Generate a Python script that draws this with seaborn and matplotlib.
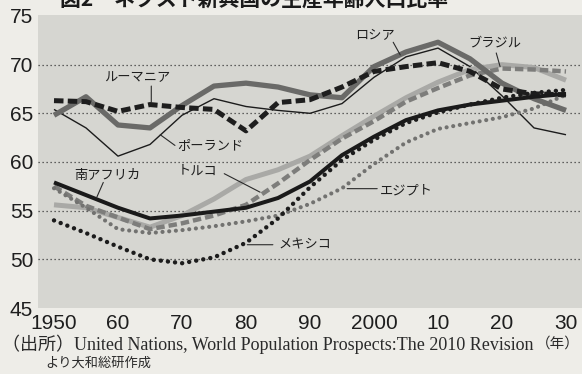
import matplotlib
matplotlib.use("Agg")
import matplotlib.pyplot as plt
import seaborn as sns
import numpy as np

# Working-age population share (%), 1950-2030
years = [1950, 1955, 1960, 1965, 1970, 1975, 1980, 1985, 1990,
         1995, 2000, 2005, 2010, 2015, 2020, 2025, 2030]

russia = [64.8, 66.7, 63.8, 63.5, 65.8, 67.8, 68.1, 67.7, 66.9,
          66.6, 69.8, 71.3, 72.3, 70.6, 68.1, 66.5, 65.3]
brazil = [55.6, 55.3, 54.3, 53.3, 54.5, 56.2, 58.2, 59.2, 60.6,
          62.7, 64.7, 66.6, 68.2, 69.5, 70.0, 69.7, 68.4]
romania = [66.3, 66.2, 65.2, 65.9, 65.6, 65.4, 63.2, 66.1, 66.4,
           67.7, 69.3, 69.8, 70.2, 69.3, 67.5, 67.0, 66.9]
poland = [65.4, 63.5, 60.6, 61.8, 64.8, 66.5, 65.7, 65.3, 65.0,
          66.0, 68.7, 70.8, 71.7, 69.8, 66.8, 63.5, 62.8]
south_africa = [57.9, 56.6, 55.3, 54.2, 54.5, 54.9, 55.3, 56.3, 58.0,
                60.7, 62.6, 64.3, 65.3, 65.9, 66.3, 66.7, 67.0]
turkey = [57.5, 55.5, 54.3, 53.1, 53.7, 54.5, 55.6, 57.8, 60.2,
          62.4, 64.2, 66.2, 67.6, 68.9, 69.6, 69.5, 69.3]
egypt = [57.3, 55.3, 53.1, 52.7, 53.0, 53.4, 53.9, 54.5, 55.7,
         57.3, 59.8, 62.0, 63.4, 64.0, 64.6, 65.5, 66.9]
mexico = [54.0, 52.7, 51.3, 50.0, 49.6, 50.2, 51.7, 54.2, 57.4,
          60.2, 62.3, 64.0, 65.1, 65.9, 66.6, 67.1, 67.4]

y_ticks = [45, 50, 55, 60, 65, 70, 75]
grid_levels = [50, 55, 60, 65, 70]
x_ticks = [1950, 1960, 1970, 1980, 1990, 2000, 2010, 2020, 2030]
x_tick_labels = ["1950", "60", "70", "80", "90", "2000", "10", "20", "30"]

title = "図2　ネクスト新興国の生産年齢人口比率"
source_line1 = "（出所）United Nations, World Population Prospects:The 2010 Revision"
source_line2 = "より大和総研作成"
unit_label = "（年）"

JP = ["Noto Sans CJK JP", "DejaVu Sans"]

sns.set_style("white")
plt.rcParams["font.family"] = ["Liberation Sans", "Noto Sans CJK JP"]

fig = plt.figure(figsize=(5.82, 3.74), dpi=100, facecolor="#eeede8")
W, H = 582, 374
ax = fig.add_axes([38 / W, 1 - 308 / H, 1 - 38 / W, (308 - 15) / H])
ax.set_facecolor("#d6d6d1")

# dotted horizontal guides
for lv in grid_levels:
    ax.axhline(lv, color="#3a3a3a", lw=0.9, ls=(0, (1, 2.2)), zorder=1)

dot = (0, (0.01, 1.6))
series = [
    # values, color, width, style, capstyle
    (poland, "#1c1c1c", 1.0, "-", "butt"),
    (brazil, "#a9a9a6", 3.6, "-", "butt"),
    (turkey, "#7d7d7b", 3.2, (0, (1.9, 0.9)), "butt"),
    (egypt, "#727270", 3.0, dot, "round"),
    (russia, "#6a6a68", 3.8, "-", "butt"),
    (romania, "#1e1e1e", 3.6, (0, (1.9, 0.85)), "butt"),
    (south_africa, "#1a1a1a", 2.9, "-", "butt"),
    (mexico, "#1c1c1c", 3.2, dot, "round"),
]
for vals, col, lw, ls, cap in series:
    sns.lineplot(x=years, y=vals, ax=ax, color=col, linewidth=lw,
                 linestyle=ls, dash_capstyle=cap, solid_capstyle="butt",
                 errorbar=None, zorder=3)

ax.set_xlim(1947.5, 2032.5)
ax.set_ylim(45, 75.1)
for s in ax.spines.values():
    s.set_visible(False)

ax.set_yticks(y_ticks)
ax.set_yticklabels([str(v) for v in y_ticks])
ax.tick_params(axis="y", length=0, pad=3.5, labelsize=15, labelcolor="#1e1e1e")

ax.set_xticks(x_ticks)
ax.set_xticklabels(x_tick_labels)
ax.tick_params(axis="x", which="major", length=0, pad=4, labelsize=15,
               labelcolor="#1e1e1e")
ax.set_xticks(np.arange(1947.5, 2030, 5), minor=True)
ax.tick_params(axis="x", which="minor", direction="in", length=4.5,
               width=1.0, color="#2a2a2a")

# series labels with leader lines
labels = [
    ("ロシア", (2000.2, 73.0), (2003.0, 72.3), (2004.1, 71.0)),
    ("ブラジル", (2018.8, 72.2), (2019.1, 71.2), (2019.7, 69.8)),
    ("ルーマニア", (1963.0, 68.7), (1965.2, 67.8), (1965.2, 66.1)),
    ("ポーランド", (1974.4, 61.7), (1968.9, 61.7), (1966.6, 62.8)),
    ("南アフリカ", (1958.3, 58.6), (1957.7, 57.9), (1956.7, 56.4)),
    ("トルコ", (1972.5, 59.1), (1976.6, 58.8), (1982.2, 56.9)),
    ("エジプト", (2005.0, 57.05), (2000.5, 57.26), (1995.8, 57.26)),
    ("メキシコ", (1989.2, 51.5), (1984.2, 51.5), (1980.2, 51.5)),
]
for txt, pos, p0, p1 in labels:
    ax.text(pos[0], pos[1], txt, family=JP, fontsize=9.5, color="#1e1e1e",
            ha="center", va="center", zorder=5)
    ax.annotate("", xy=p1, xytext=p0,
                arrowprops=dict(arrowstyle="-", color="#2a2a2a", lw=0.8,
                                shrinkA=0, shrinkB=0), zorder=5)

# heading sits at the very top edge of the sheet
fig.text(60 / W, 1 - 6 / H, title, family=JP, fontsize=15, fontweight="bold",
         color="#1a1a1a", ha="left", va="baseline")
fig.text(2 / W, 1 - 344 / H, source_line1,
         family=["Liberation Serif", "Noto Sans CJK JP"], fontsize=13,
         color="#2a2a2a", ha="left", va="center")
fig.text(45 / W, 1 - 363 / H, source_line2, family=JP, fontsize=9.5,
         color="#2a2a2a", ha="left", va="center")
fig.text(580 / W, 1 - 344 / H, unit_label, family=JP, fontsize=10.5,
         color="#2a2a2a", ha="right", va="center")

fig.savefig("out.png", dpi=100, facecolor=fig.get_facecolor())
